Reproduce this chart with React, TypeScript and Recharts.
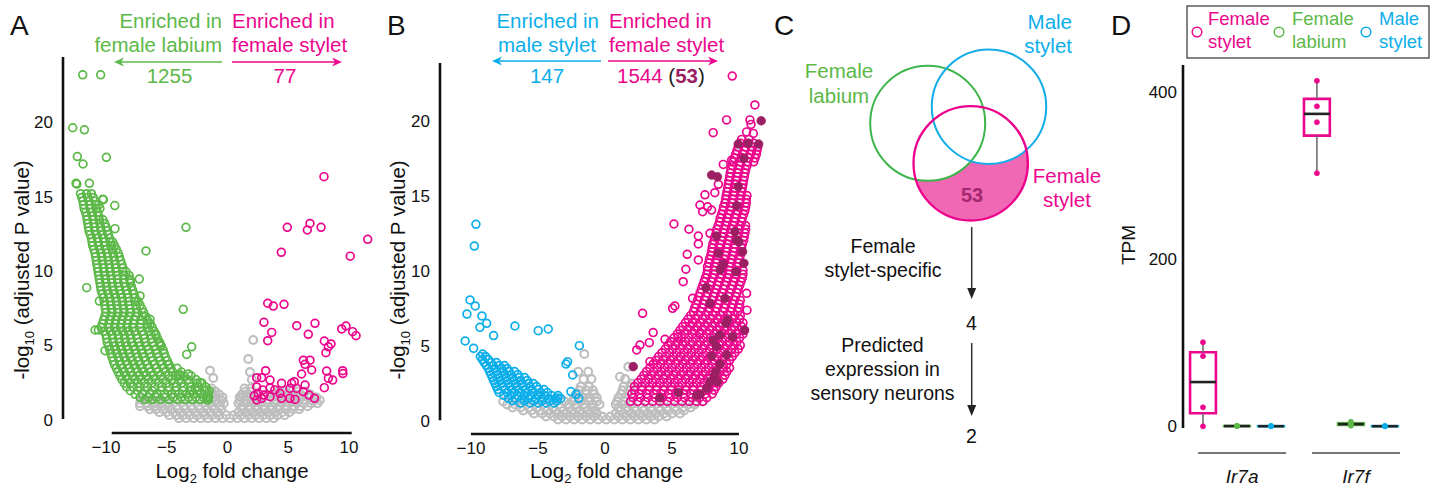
import React from 'react';
import {
  ScatterChart, ComposedChart, Scatter, XAxis, YAxis,
  ReferenceLine, ReferenceArea,
} from 'recharts';

const FONT = '"Liberation Sans", Arial, Helvetica, sans-serif';
const GREEN = '#5cb848';
const PINK = '#ec068d';
const BLUE = '#0caeea';
const GREY = '#bebebe';
const DARK = '#9b1f62';
const INK = '#111';

type Pair = [number, number];
type Row = [number, number[]];

// shared ticks
const foldTicks = [-10, -5, 0, 5, 10];
const pTicks = [0, 5, 10, 15, 20];

// enriched gene counts
const countsA = [1255, 77];
const countsB = [147, 1544];

// ---------- A: female stylet vs female labium ----------
const labiumOutliersA: Pair[] = [
  [-11.92, 23.2], [-10.44, 23.2], [-12.74, 19.64], [-11.78, 19.5], [-12.36, 17.7],
  [-11.89, 17.2], [-9.97, 17.65], [-12.47, 15.9], [-12.4, 15.85], [-11.37, 15.9],
  [-10.22, 14.8], [-9.28, 14.4], [-10.27, 14.82], [-9.26, 12.85], [-3.42, 12.94],
  [-6.71, 11.35], [-11.59, 8.88], [-10.55, 7.98], [-3.64, 7.42], [-7.26, 9.46],
  [-7.2, 8.32], [-7.97, 9.35], [-6.38, 6.75], [-5.91, 5.76], [-5.56, 5.13],
  [-2.95, 4.9], [-3.36, 4.39], [-10.9, 6.03], [-10.63, 6.03], [-10.08, 4.64],
  [-4.05, 3.0], [-3.23, 3.07], [-2.67, 2.1], [-1.71, 2.0], [-1.58, 1.32],
  [-5.5, 5.0], [-4.87, 3.7], [-3.9, 3.0], [-2.26, 2.5], [-1.72, 1.5], [-2.96, 2.0],
];

const labiumBandA: Row[] = [
  [15.2, [-12.1, -11.6, -11.2]],
  [14.95, [-12.0, -11.5, -11.05]],
  [14.7, [-11.9, -11.4, -10.9]],
  [14.45, [-11.85, -11.35, -10.85, -10.6]],
  [14.2, [-11.8, -11.3, -10.8, -10.5]],
  [13.95, [-11.7, -11.2, -10.7]],
  [13.7, [-11.6, -11.1, -10.6]],
  [13.45, [-11.55, -11.05, -10.55, -10.25]],
  [13.2, [-11.5, -11.0, -10.5, -10.1]],
  [12.95, [-11.45, -10.95, -10.45, -10.0]],
  [12.7, [-11.4, -10.9, -10.4, -9.9]],
  [12.45, [-11.3, -10.8, -10.3, -9.8]],
  [12.2, [-11.2, -10.7, -10.2, -9.7]],
  [11.95, [-11.15, -10.65, -10.15, -9.65, -9.45]],
  [11.7, [-11.1, -10.6, -10.1, -9.6, -9.3]],
  [11.45, [-11.0, -10.5, -10.0, -9.5, -9.15]],
  [11.2, [-10.9, -10.4, -9.9, -9.4, -9.0]],
  [10.95, [-10.85, -10.35, -9.85, -9.35, -8.9]],
  [10.7, [-10.8, -10.3, -9.8, -9.3, -8.8]],
  [10.45, [-10.75, -10.25, -9.75, -9.25, -8.7]],
  [10.2, [-10.7, -10.2, -9.7, -9.2, -8.6]],
  [9.95, [-10.65, -10.15, -9.65, -9.15, -8.6, -8.35]],
  [9.7, [-10.6, -10.1, -9.6, -9.1, -8.5, -8.1]],
  [9.45, [-10.55, -10.05, -9.55, -9.05, -8.55, -8.05]],
  [9.2, [-10.5, -10.0, -9.5, -9.0, -8.5, -8.0]],
  [8.95, [-10.45, -9.95, -9.45, -8.95, -8.4, -7.9]],
  [8.7, [-10.4, -9.9, -9.4, -8.9, -8.3, -7.8]],
  [8.45, [-10.3, -9.8, -9.3, -8.8, -8.25, -7.7]],
  [8.2, [-10.2, -9.7, -9.2, -8.7, -8.2, -7.6]],
  [7.95, [-10.15, -9.65, -9.15, -8.65, -8.15, -7.6, -7.35]],
  [7.7, [-10.1, -9.6, -9.1, -8.6, -8.1, -7.5, -7.2]],
  [7.45, [-10.05, -9.55, -9.05, -8.55, -8.05, -7.5, -7.05]],
  [7.2, [-10.0, -9.5, -9.0, -8.5, -8.0, -7.4, -6.9]],
  [6.95, [-10.1, -9.6, -9.1, -8.6, -8.1, -7.55, -7.0, -6.75]],
  [6.7, [-10.2, -9.7, -9.2, -8.7, -8.2, -7.7, -7.1, -6.6]],
  [6.45, [-10.3, -9.75, -9.25, -8.75, -8.25, -7.75, -7.15, -6.6, -6.35]],
  [6.2, [-10.4, -9.8, -9.3, -8.8, -8.3, -7.8, -7.2, -6.6, -6.2]],
  [5.95, [-10.2, -9.65, -9.15, -8.65, -8.15, -7.65, -7.05, -6.45, -6.05]],
  [5.7, [-10.0, -9.5, -9.0, -8.5, -8.0, -7.5, -6.9, -6.3, -5.9]],
  [5.45, [-9.95, -9.45, -8.95, -8.45, -7.95, -7.4, -6.85, -6.25, -5.75]],
  [5.2, [-9.9, -9.4, -8.9, -8.4, -7.9, -7.3, -6.8, -6.2, -5.6]],
  [4.95, [-9.8, -9.3, -8.8, -8.3, -7.75, -7.2, -6.65, -6.05, -5.45]],
  [4.7, [-9.7, -9.2, -8.7, -8.2, -7.6, -7.1, -6.5, -5.9, -5.3]],
  [4.45, [-9.6, -9.1, -8.6, -8.1, -7.5, -7.0, -6.4, -5.8, -5.2]],
  [4.2, [-9.5, -9.0, -8.5, -8.0, -7.4, -6.9, -6.3, -5.7, -5.1]],
  [3.95, [-9.4, -8.9, -8.35, -7.85, -7.3, -6.75, -6.15, -5.55, -4.95]],
  [3.7, [-9.3, -8.8, -8.2, -7.7, -7.2, -6.6, -6.0, -5.4, -4.8]],
  [3.45, [-9.15, -8.65, -8.1, -7.55, -7.05, -6.45, -5.85, -5.25, -4.65, -4.15]],
  [3.2, [-9.0, -8.5, -8.0, -7.4, -6.9, -6.3, -5.7, -5.1, -4.5, -3.8]],
  [2.95, [-8.85, -8.35, -7.8, -7.25, -6.7, -6.1, -5.5, -4.85, -4.25, -3.6, -3.0]],
  [2.7, [-8.7, -8.2, -7.6, -7.1, -6.5, -5.9, -5.3, -4.6, -4.0, -3.3, -2.6]],
  [2.45, [-8.5, -8.0, -7.4, -6.85, -6.25, -5.65, -5.05, -4.4, -3.8, -3.15, -2.5, -2.1]],
  [2.2, [-8.3, -7.8, -7.2, -6.6, -6.0, -5.4, -4.8, -4.2, -3.6, -3.0, -2.4, -1.8]],
  [1.95, [-8.0, -7.4, -6.8, -6.2, -5.5, -4.9, -4.3, -3.7, -3.1, -2.5, -1.9, -1.5]],
  [1.7, [-7.6, -7.0, -6.4, -5.8, -5.2, -4.6, -4.0, -3.4, -2.8, -2.2, -1.6]],
  [1.5, [-7.2, -6.5, -5.85, -5.15, -4.45, -3.8, -3.2, -2.6, -2.0, -1.55]],
  [1.35, [-6.8, -6.2, -5.5, -4.8, -4.1, -3.5, -2.9, -2.3, -1.7]],
];

const styletA: Pair[] = [
  [7.94, 16.35], [4.92, 12.94], [6.79, 13.2], [6.57, 12.76], [7.7, 12.94],
  [11.54, 12.13], [4.43, 11.26], [10.1, 11.0], [3.31, 7.83], [3.77, 7.64],
  [4.65, 7.76], [3.0, 6.55], [3.64, 5.87], [3.31, 5.31], [5.7, 6.32],
  [7.2, 6.48], [6.65, 5.74], [9.4, 6.1], [9.75, 6.3], [10.3, 5.92],
  [10.58, 5.65], [7.97, 5.29], [8.52, 5.09], [8.3, 4.9], [8.1, 4.5],
  [6.24, 4.0], [6.79, 4.0], [6.38, 3.72], [6.93, 3.34], [6.1, 3.07],
  [8.16, 3.27], [8.3, 2.78], [8.66, 2.66], [9.48, 3.29], [9.5, 3.1],
  [7.97, 2.15], [3.14, 3.29], [2.4, 2.82], [2.81, 2.82], [3.5, 2.66],
  [3.5, 2.13], [2.4, 2.2], [2.53, 1.77], [2.81, 1.43], [3.0, 1.65],
  [2.4, 1.32], [2.9, 2.0], [4.45, 2.44], [5.28, 2.44], [5.5, 2.55],
  [5.14, 2.1], [5.69, 2.1], [6.38, 2.33], [6.24, 1.88], [4.32, 1.77],
  [4.45, 1.43], [5.14, 1.43], [5.55, 1.36], [6.7, 1.65], [7.15, 1.43],
  [3.5, 1.54], [3.9, 2.0], [2.2, 1.6],
];

const greyRowsA: Row[] = [
  [0.1, [-4.0, -3.4, -2.8, -2.2, -1.6, -1.0, -0.4, 0.2, 0.8, 1.4, 2.0, 2.6, 3.2, 3.8]],
  [0.3, [-4.8, -4.2, -3.7, -3.1, -2.5, -1.9, -1.3, -0.7, -0.1, 0.5, 1.1, 1.7, 2.3, 2.9, 3.5, 4.1, 4.7]],
  [0.5, [-5.6, -5.0, -4.4, -3.8, -3.2, -2.6, -2.0, -1.4, -0.8, 0.9, 1.5, 2.1, 2.7, 3.3, 3.9, 4.5, 5.1]],
  [0.7, [-6.4, -5.9, -5.3, -4.7, -4.1, -3.5, -2.9, -2.3, -1.7, -1.1, -0.5, 1.2, 1.8, 2.4, 3.0, 3.6, 4.2, 4.8, 5.4, 5.9]],
  [0.9, [-7.2, -6.6, -6.0, -5.4, -4.8, -4.2, -3.6, -3.0, -2.4, -1.8, -1.2, -0.6, 1.2, 1.8, 2.4, 3.0, 3.6, 4.2, 4.8, 5.4, 6.0, 6.6]],
  [1.1, [-7.2, -6.6, -6.0, -5.4, -4.8, -1.5, -0.9, -0.3, 0.9, 1.5, 2.1, 2.7, 3.3, 3.9, 4.5, 5.1, 5.7, 6.3, 6.9, 7.4]],
  [1.3, [-7.0, -6.3, -5.7, -1.0, -0.5, 1.0, 1.5, 2.0, 2.6, 3.4, 4.0, 4.6, 5.2, 5.8, 6.4, 7.0, 7.6]],
  [1.5, [-1.1, -0.4, 1.1, 1.6, 2.2, 3.7, 4.3, 4.9, 5.5, 6.1, 6.7, 7.3]],
  [1.7, [-1.2, -0.7, 1.2, 1.7, 3.3, 4.0, 4.5, 5.0, 5.5, 6.0, 6.8]],
  [1.9, [-1.0, 1.5, 2.0, 4.2, 4.8, 5.8, 6.4]],
  [2.1, [-1.3, 1.4, 1.9, 5.2]],
];
const greyExtraA: Pair[] = [
  [-1.44, 3.3], [-1.17, 2.8], [1.71, 4.08], [2.12, 5.36], [1.85, 3.2],
  [2.0, 2.7], [7.3, 1.4], [1.0, 1.5],
];

// ---------- B: female stylet vs male stylet ----------
const maleOutliersB: Pair[] = [
  [-9.63, 13.13], [-9.75, 11.68], [-10.07, 8.08], [-9.68, 7.68], [-10.3, 7.14],
  [-9.18, 7.01], [-8.83, 6.52], [-9.33, 6.25], [-6.72, 6.34], [-4.98, 6.03],
  [-4.23, 6.14], [-8.31, 5.7], [-10.43, 5.34], [-9.8, 4.85], [-9.13, 4.47],
  [-1.91, 5.03], [-2.79, 3.96], [-2.91, 3.8], [-2.41, 3.07], [-2.54, 1.96],
  [-2.16, 1.78], [-1.96, 1.51], [-3.53, 1.53],
];
const maleBandB: Row[] = [
  [4.3, [-9.3, -8.9]],
  [4.1, [-9.15, -8.7]],
  [3.9, [-9.0, -8.5, -8.1]],
  [3.7, [-8.85, -8.35, -7.9, -7.5]],
  [3.5, [-8.7, -8.2, -7.7, -7.3]],
  [3.3, [-8.6, -8.1, -7.6, -7.15, -6.75]],
  [3.1, [-8.5, -8.0, -7.5, -7.0, -6.5]],
  [2.9, [-8.4, -7.9, -7.4, -6.9, -6.4, -6.0]],
  [2.7, [-8.3, -7.8, -7.3, -6.8, -6.3, -5.8]],
  [2.5, [-8.2, -7.7, -7.2, -6.7, -6.2, -5.7, -5.35]],
  [2.3, [-8.1, -7.6, -7.1, -6.6, -6.1, -5.6, -5.1]],
  [2.1, [-8.0, -7.45, -6.95, -6.45, -5.95, -5.45, -4.95, -4.55]],
  [1.9, [-7.9, -7.3, -6.8, -6.3, -5.8, -5.3, -4.8, -4.3]],
  [1.7, [-7.55, -7.0, -6.5, -6.0, -5.5, -5.0, -4.5, -4.0, -3.5]],
  [1.5, [-7.2, -6.7, -6.2, -5.7, -5.2, -4.7, -4.2, -3.7, -3.3]],
  [1.35, [-6.9, -6.0, -5.3, -4.7, -4.1, -3.6]],
  [1.2, [-6.3, -5.6, -5.0, -4.4, -3.8]],
];

const styletBandB: Row[] = [
  [1.3, [1.9, 2.45, 3.0, 3.55, 4.1, 4.65, 5.2, 5.75, 6.3, 6.85, 7.3]],
  [1.55, [2.1, 2.65, 3.2, 3.75, 4.3, 4.85, 5.4, 5.95, 6.5, 7.05, 7.6]],
  [1.8, [2.0, 2.55, 3.1, 3.65, 4.2, 4.75, 5.3, 5.85, 6.4, 6.95, 7.5, 8.0]],
  [2.05, [2.2, 2.75, 3.3, 3.85, 4.4, 4.95, 5.5, 6.05, 6.6, 7.15, 7.7, 8.15]],
  [2.3, [2.2, 2.75, 3.3, 3.85, 4.4, 4.95, 5.5, 6.05, 6.6, 7.15, 7.7, 8.3]],
  [2.55, [2.45, 3.0, 3.55, 4.1, 4.65, 5.2, 5.75, 6.3, 6.85, 7.4, 7.95, 8.5]],
  [2.8, [2.7, 3.25, 3.8, 4.35, 4.9, 5.45, 6.0, 6.55, 7.1, 7.65, 8.2, 8.8]],
  [3.05, [2.9, 3.45, 4.0, 4.55, 5.1, 5.65, 6.2, 6.75, 7.3, 7.85, 8.4, 8.95]],
  [3.3, [3.1, 3.65, 4.2, 4.75, 5.3, 5.85, 6.4, 6.95, 7.5, 8.05, 8.6, 9.1]],
  [3.55, [3.35, 3.9, 4.45, 5.0, 5.55, 6.1, 6.65, 7.2, 7.75, 8.3, 8.85, 9.3]],
  [3.8, [3.6, 4.15, 4.7, 5.25, 5.8, 6.35, 6.9, 7.45, 8.0, 8.55, 9.1]],
  [4.05, [3.8, 4.35, 4.9, 5.45, 6.0, 6.55, 7.1, 7.65, 8.2, 8.75, 9.3]],
  [4.3, [4.0, 4.55, 5.1, 5.65, 6.2, 6.75, 7.3, 7.85, 8.4, 8.95, 9.5]],
  [4.55, [4.25, 4.8, 5.35, 5.9, 6.45, 7.0, 7.55, 8.1, 8.65, 9.2, 9.7]],
  [4.8, [4.5, 5.05, 5.6, 6.15, 6.7, 7.25, 7.8, 8.35, 8.9, 9.45, 9.95]],
  [5.05, [4.7, 5.25, 5.8, 6.35, 6.9, 7.45, 8.0, 8.55, 9.1, 9.65, 10.1]],
  [5.3, [4.9, 5.45, 6.0, 6.55, 7.1, 7.65, 8.2, 8.75, 9.3, 9.85]],
  [5.55, [5.15, 5.7, 6.25, 6.8, 7.35, 7.9, 8.45, 9.0, 9.55, 10.05]],
  [5.8, [5.4, 5.95, 6.5, 7.05, 7.6, 8.15, 8.7, 9.25, 9.8, 10.3]],
  [6.05, [5.6, 6.15, 6.7, 7.25, 7.8, 8.35, 8.9, 9.45, 10.0, 10.4]],
  [6.3, [5.8, 6.35, 6.9, 7.45, 8.0, 8.55, 9.1, 9.65, 10.2]],
  [6.55, [6.0, 6.55, 7.1, 7.65, 8.2, 8.75, 9.3, 9.85, 10.3]],
  [6.8, [6.2, 6.75, 7.3, 7.85, 8.4, 8.95, 9.5, 10.05]],
  [7.05, [6.4, 6.95, 7.5, 8.05, 8.6, 9.15, 9.7, 10.1]],
  [7.3, [6.6, 7.15, 7.7, 8.25, 8.8, 9.35, 9.9]],
  [7.55, [6.7, 7.25, 7.8, 8.35, 8.9, 9.45, 10.0]],
  [7.8, [6.8, 7.35, 7.9, 8.45, 9.0, 9.55, 10.05]],
  [8.05, [6.9, 7.45, 8.0, 8.55, 9.1, 9.65, 10.1]],
  [8.3, [7.0, 7.55, 8.1, 8.65, 9.2, 9.75]],
  [8.55, [7.1, 7.65, 8.2, 8.75, 9.3, 9.85]],
  [8.8, [7.2, 7.75, 8.3, 8.85, 9.4, 9.95]],
  [9.05, [7.3, 7.85, 8.4, 8.95, 9.5, 10.05]],
  [9.3, [7.4, 7.95, 8.5, 9.05, 9.6, 10.15]],
  [9.55, [7.5, 8.05, 8.6, 9.15, 9.7, 10.25]],
  [9.8, [7.6, 8.15, 8.7, 9.25, 9.8, 10.3]],
  [10.05, [7.65, 8.2, 8.75, 9.3, 9.85, 10.3]],
  [10.3, [7.65, 8.2, 8.75, 9.3, 9.85]],
  [10.55, [7.75, 8.3, 8.85, 9.4, 9.95]],
  [10.8, [7.8, 8.35, 8.9, 9.45, 10.0]],
  [11.05, [7.9, 8.45, 9.0, 9.55, 10.1]],
  [11.3, [7.95, 8.5, 9.05, 9.6, 10.15]],
  [11.55, [8.0, 8.55, 9.1, 9.65, 10.2]],
  [11.8, [8.05, 8.6, 9.15, 9.7, 10.25]],
  [12.05, [8.15, 8.7, 9.25, 9.8, 10.35]],
  [12.3, [8.2, 8.75, 9.3, 9.85, 10.4]],
  [12.55, [8.3, 8.85, 9.4, 9.95, 10.45]],
  [12.8, [8.35, 8.9, 9.45, 10.0, 10.5]],
  [13.05, [8.45, 9.0, 9.55, 10.1, 10.5]],
  [13.3, [8.55, 9.1, 9.65, 10.2]],
  [13.55, [8.6, 9.15, 9.7, 10.25]],
  [13.8, [8.7, 9.25, 9.8, 10.35]],
  [14.05, [8.8, 9.35, 9.9, 10.45]],
  [14.3, [8.85, 9.4, 9.95, 10.5]],
  [14.55, [8.95, 9.5, 10.05, 10.55]],
  [14.8, [9.0, 9.55, 10.1, 10.55]],
  [15.05, [9.05, 9.6, 10.15, 10.6]],
  [15.3, [9.1, 9.65, 10.2]],
  [15.55, [9.15, 9.7, 10.25]],
  [15.8, [9.2, 9.75, 10.3]],
  [16.05, [9.25, 9.8, 10.35]],
  [16.3, [9.3, 9.85, 10.4]],
  [16.55, [9.35, 9.9, 10.45]],
  [16.8, [9.4, 9.95, 10.5]],
  [17.05, [9.5, 10.05, 10.6]],
  [17.3, [9.55, 10.1, 10.65, 11.1]],
  [17.55, [9.65, 10.2, 10.75, 11.2]],
  [17.8, [9.75, 10.3, 10.85, 11.3]],
  [18.05, [9.85, 10.4, 10.95, 11.35]],
  [18.3, [9.95, 10.5, 11.0, 11.4]],
  [18.55, [10.1, 10.65, 11.1]],
  [18.8, [10.2, 10.75]],
];
const styletOutliersB: Pair[] = [
  [9.5, 23.03], [11.19, 21.1], [9.08, 20.1], [10.82, 20.1], [8.08, 19.25],
  [10.57, 19.3], [11.07, 19.2], [10.9, 19.8], [8.83, 17.13], [9.45, 17.4],
  [8.46, 15.8], [7.46, 15.1], [8.2, 15.24], [7.09, 14.42], [7.66, 14.3],
  [7.96, 14.08], [7.29, 13.97], [5.15, 13.15], [6.27, 12.8], [6.97, 12.35],
  [7.84, 12.53], [6.97, 11.82], [6.14, 11.13], [6.97, 10.75], [6.04, 10.13],
  [5.84, 9.3], [10.57, 8.52], [6.54, 8.19], [5.22, 7.68], [5.05, 7.52],
  [2.81, 7.19], [3.6, 5.9], [4.48, 5.45], [3.31, 5.23], [2.61, 5.07],
  [2.37, 4.74], [3.36, 3.96], [5.47, 5.63], [7.09, 5.85], [10.6, 7.4],
];
// the 53 female stylet-specific genes
const specificB: Pair[] = [
  [11.66, 20.04], [9.95, 18.49], [10.7, 18.54], [11.47, 18.49], [10.37, 17.54],
  [7.96, 16.42], [8.4, 16.3], [9.95, 15.64], [9.83, 14.37], [8.33, 12.35],
  [9.7, 12.64], [9.83, 12.08], [10.0, 11.95], [8.46, 11.2], [10.27, 11.3],
  [8.83, 10.48], [8.6, 10.1], [9.78, 9.97], [10.37, 10.53], [7.54, 8.9],
  [8.96, 8.19], [7.84, 7.86], [9.15, 6.74], [9.03, 6.52], [10.42, 6.07],
  [9.53, 5.63], [8.58, 5.74], [8.33, 4.96], [7.96, 4.34], [9.08, 4.41],
  [8.28, 3.29], [8.18, 3.03], [7.84, 2.62], [8.4, 2.62], [7.59, 2.18],
  [7.09, 1.78], [6.84, 1.7], [5.47, 1.9], [4.1, 1.55], [2.11, 3.63],
  [8.58, 3.8], [8.08, 5.4],
];
const greyRowsB: Row[] = [
  [0.1, [-3.5, -2.9, -2.3, -1.7, -1.1, -0.5, 0.1, 0.7, 1.3, 1.9, 2.5, 3.1, 3.7]],
  [0.3, [-4.4, -3.8, -3.2, -2.6, -2.0, -1.4, -0.8, -0.2, 0.4, 1.0, 1.6, 2.2, 2.8, 3.4, 4.0, 4.6]],
  [0.5, [-5.3, -4.7, -4.1, -3.5, -2.9, -2.3, -1.7, -1.1, -0.6, 0.8, 1.4, 2.0, 2.6, 3.2, 3.8, 4.4, 5.0, 5.6]],
  [0.7, [-6.1, -5.5, -4.9, -4.3, -3.7, -3.1, -2.5, -1.9, -1.3, -0.8, 1.1, 1.7, 2.3, 2.9, 3.5, 4.1, 4.7, 5.3, 5.9]],
  [0.9, [-6.9, -6.3, -5.7, -5.1, -4.5, -3.9, -3.3, -2.7, -2.1, -1.5, -0.9, 1.0, 1.6, 2.2, 2.8, 3.4, 4.0, 4.6, 5.2, 5.8, 6.4]],
  [1.1, [-7.3, -6.7, -2.7, -2.1, -1.5, -0.9, -0.4, 0.8, 1.3, 1.9, 6.2, 6.7]],
  [1.3, [-7.6, -3.0, -2.4, -1.8, -1.2, -0.6, 0.9, 1.5, 2.0, 6.8, 7.3]],
  [1.55, [-2.3, -1.7, -1.1, -0.6, 1.0, 1.5]],
  [1.8, [-2.0, -1.4, -0.8, 1.2, 1.7]],
  [2.05, [-1.9, -1.4, -0.9, 1.3, 1.8]],
  [2.3, [-1.8, -1.2, 1.4, 1.9]],
  [2.8, [-1.6, -1.0, 1.5]],
];
const greyExtraB: Pair[] = [
  [-1.54, 4.47], [-1.99, 3.29], [-1.25, 3.29], [1.12, 2.96], [1.74, 3.62], [2.0, 2.5],
];

// ---------- D: Ir7a / Ir7f TPM ----------
const genes = ['Ir7a', 'Ir7f'];
const tissues = ['Female stylet', 'Female labium', 'Male stylet'];
const tpmIr7a = {
  femaleStylet: [100.6, 84.0, 22.7, 0.0],
  femaleLabium: [0.6, 0.4, 0.3, 0.2],
  maleStylet: [0.3, 0.2, 0.1, 0.1],
};
const tpmIr7f = {
  femaleStylet: [413.5, 383.0, 364.0, 303.0],
  femaleLabium: [5.5, 3.2, 2.0, 0.8],
  maleStylet: [0.3, 0.2, 0.1, 0.1],
};
// box summaries: [min, q1, median, q3, max]
const boxIr7a = {
  femaleStylet: [0, 15.6, 53, 88.6, 100.6],
  femaleLabium: [0.2, 0.25, 0.35, 0.45, 0.6],
  maleStylet: [0.1, 0.1, 0.15, 0.22, 0.3],
};
const boxIr7f = {
  femaleStylet: [303, 348, 374, 392, 413.5],
  femaleLabium: [0.8, 1.7, 2.6, 3.8, 5.5],
  maleStylet: [0.1, 0.1, 0.15, 0.22, 0.3],
};
const tpmTicks = [0, 200, 400];

// ---------- C: overlap counts ----------
const specificCount = 53;
const filterCounts = [4, 2];
const filterSteps = [['Female', 'stylet-specific'], ['Predicted', 'expression in', 'sensory neurons']];

// ---------- helpers ----------
const rowsToPoints = (rows: Row[]) => rows.flatMap(([y, xs]) => xs.map((x) => ({ x, y })));
const pairsToPoints = (pairs: Pair[]) => pairs.map(([x, y]) => ({ x, y }));

const ring = (color: string, sw = 1.7) => (p: any) =>
  <circle cx={p.cx} cy={p.cy} r={3.9} fill="none" stroke={color} strokeWidth={sw} />;
const disc = (color: string, r: number) => (p: any) =>
  <circle cx={p.cx} cy={p.cy} r={r} fill={color} stroke={color} strokeWidth={0.8} />;

const minus = (v: number) => (v < 0 ? '\u2212' + Math.abs(v) : String(v));
const tickStyle = { fontSize: 17, fill: INK, fontFamily: FONT };

function Volcano(props: {
  left: number; width: number; top: number; xAxisH: number;
  xDomain: [number, number]; yDomain: [number, number];
  frameX: [number, number]; frameYTop: number;
  layers: { data: { x: number; y: number }[]; shape: any }[];
}) {
  const { left, width, top, xAxisH, xDomain, yDomain, frameX, frameYTop, layers } = props;
  return (
    <div style={{ position: 'absolute', left, top: 0 }}>
      <ScatterChart width={width} height={489} margin={{ top, right: 0, bottom: 0, left: 0 }}>
        <XAxis type="number" dataKey="x" domain={xDomain} ticks={foldTicks} allowDataOverflow
          axisLine={false} tickLine={false} height={xAxisH} tick={tickStyle} tickFormatter={minus} interval={0} />
        <YAxis type="number" dataKey="y" domain={yDomain} ticks={pTicks} allowDataOverflow
          axisLine={false} tickLine={false} tickSize={8} width={63} tick={tickStyle} interval={0} />
        {layers.map((l, i) => (
          <Scatter key={i} data={l.data} shape={l.shape} isAnimationActive={false} />
        ))}
        <ReferenceLine segment={[{ x: xDomain[0], y: 0.05 }, { x: xDomain[0], y: frameYTop }]}
          stroke={INK} strokeWidth={2.6} ifOverflow="visible" />
        <ReferenceLine segment={[{ x: frameX[0], y: yDomain[0] }, { x: frameX[1], y: yDomain[0] }]}
          stroke={INK} strokeWidth={2.6} ifOverflow="visible" />
      </ScatterChart>
    </div>
  );
}

const slotX = [0, 1, 2];
const groupX = [0, 3.35];
const tissueColors = [PINK, GREEN, BLUE];
const geneTickValues = [1.15, 4.5];

function GeneTick(props: any) {
  const { x, y, payload } = props;
  const name = genes[geneTickValues.indexOf(payload.value)];
  return (
    <g>
      <line x1={x - 44} x2={x + 44} y1={y + 25} y2={y + 25} stroke="#777" strokeWidth={2} />
      <text x={x} y={y + 55} textAnchor="middle" fontStyle="italic" fontSize={19} fill={INK} fontFamily={FONT}>
        {name}
      </text>
    </g>
  );
}

function BoxPanel() {
  const sets = [tpmIr7a, tpmIr7f];
  const boxes = [boxIr7a, boxIr7f];
  const keys = ['femaleStylet', 'femaleLabium', 'maleStylet'] as const;
  const items: { x: number; stats: number[]; color: string; reps: number[] }[] = [];
  sets.forEach((s, g) => {
    keys.forEach((k, t) => {
      items.push({ x: groupX[g] + slotX[t], stats: (boxes[g] as any)[k], color: tissueColors[t], reps: (s as any)[k] });
    });
  });
  const hw = 0.38;
  return (
    <div style={{ position: 'absolute', left: 1110, top: 0 }}>
      <ComposedChart width={320} height={489} margin={{ top: 65, right: 10, bottom: 0, left: 0 }}>
        <XAxis type="number" dataKey="x" domain={[-0.588, 6.382]} ticks={geneTickValues} interval={0}
          axisLine={false} tickLine={false} tickSize={0} tickMargin={0} height={61} tick={<GeneTick />} />
        <YAxis type="number" dataKey="y" domain={[-2, 432.5]} ticks={tpmTicks} interval={0}
          axisLine={{ stroke: INK, strokeWidth: 2.6 }} tickLine={false} tickSize={4} width={73} tick={tickStyle} />
        {items.map((b, i) => (
          <ReferenceLine key={'wl' + i} segment={[{ x: b.x, y: b.stats[0] }, { x: b.x, y: b.stats[1] }]}
            stroke="#666" strokeWidth={1.5} ifOverflow="visible" />
        ))}
        {items.map((b, i) => (
          <ReferenceLine key={'wh' + i} segment={[{ x: b.x, y: b.stats[3] }, { x: b.x, y: b.stats[4] }]}
            stroke="#666" strokeWidth={1.5} ifOverflow="visible" />
        ))}
        {items.map((b, i) => (
          <ReferenceArea key={'bx' + i} x1={b.x - hw} x2={b.x + hw} y1={b.stats[1]} y2={b.stats[3]}
            fill="#fff" fillOpacity={1} stroke={b.color} strokeWidth={2.6} ifOverflow="visible" />
        ))}
        {items.map((b, i) => (
          <ReferenceLine key={'md' + i} segment={[{ x: b.x - hw, y: b.stats[2] }, { x: b.x + hw, y: b.stats[2] }]}
            stroke="#222" strokeWidth={2.6} ifOverflow="visible" />
        ))}
        {items.map((b, i) => (
          <Scatter key={'pt' + i} data={b.reps.map((y) => ({ x: b.x, y }))} shape={disc(b.color, 2.5)}
            isAnimationActive={false} />
        ))}
      </ComposedChart>
    </div>
  );
}

function HArrow({ x1, x2, y, color }: { x1: number; x2: number; y: number; color: string }) {
  const d = Math.sign(x2 - x1);
  return (
    <g>
      <line x1={x1} x2={x2 - d * 6} y1={y} y2={y} stroke={color} strokeWidth={1.5} />
      <polygon points={`${x2},${y} ${x2 - d * 10},${y - 4.5} ${x2 - d * 7},${y} ${x2 - d * 10},${y + 4.5}`} fill={color} />
    </g>
  );
}

function VArrow({ x, y1, y2 }: { x: number; y1: number; y2: number }) {
  return (
    <g>
      <line x1={x} x2={x} y1={y1} y2={y2 - 8} stroke="#333" strokeWidth={1.5} />
      <polygon points={`${x},${y2} ${x - 4.5},${y2 - 11} ${x + 4.5},${y2 - 11}`} fill="#222" />
    </g>
  );
}

function Overlay() {
  const t = { fontFamily: FONT, fontSize: 20.5 };
  return (
    <svg width={1438} height={489} style={{ position: 'absolute', left: 0, top: 0, pointerEvents: 'none', whiteSpace: 'pre' }}>
      {/* panel letters */}
      <g fontFamily={FONT} fontSize={28} fill={INK}>
        <text x={10} y={35}>A</text>
        <text x={387} y={35}>B</text>
        <text x={774} y={35}>C</text>
        <text x={1111} y={35}>D</text>
      </g>

      {/* A annotations */}
      <g {...t}>
        <text x={222} y={28} textAnchor="end" fill={GREEN}>Enriched in</text>
        <text x={222} y={52} textAnchor="end" fill={GREEN}>female labium</text>
        <text x={232} y={28} fill={PINK}>Enriched in</text>
        <text x={232} y={52} fill={PINK}>female stylet</text>
        <text x={169.5} y={83} textAnchor="middle" fill={GREEN}>{countsA[0]}</text>
        <text x={285} y={83} textAnchor="middle" fill={PINK}>{countsA[1]}</text>
        <text transform="translate(29,270) rotate(-90)" textAnchor="middle" fill={INK}>
          -log<tspan fontSize={13} dy={5}>10</tspan><tspan dy={-5}>{' (adjusted P value)'}</tspan>
        </text>
        <text x={232} y={478} textAnchor="middle" fill={INK}>
          Log<tspan fontSize={13} dy={5}>2</tspan><tspan dy={-5}>{' fold change'}</tspan>
        </text>
      </g>
      <HArrow x1={222} x2={114} y={62} color={GREEN} />
      <HArrow x1={232} x2={342} y={62} color={PINK} />

      {/* B annotations */}
      <g {...t}>
        <text x={599} y={28} textAnchor="end" fill={BLUE}>Enriched in</text>
        <text x={596} y={52} textAnchor="end" fill={BLUE}>male stylet</text>
        <text x={609} y={28} fill={PINK}>Enriched in</text>
        <text x={609} y={52} fill={PINK}>female stylet</text>
        <text x={547} y={83} textAnchor="middle" fill={BLUE}>{countsB[0]}</text>
        <text x={617} y={83}>
          <tspan fill={PINK}>{countsB[1]}</tspan><tspan fill="#222">{' ('}</tspan>
          <tspan fill={DARK} fontWeight="bold">{specificCount}</tspan><tspan fill="#222">)</tspan>
        </text>
        <text transform="translate(405,270) rotate(-90)" textAnchor="middle" fill={INK}>
          -log<tspan fontSize={13} dy={5}>10</tspan><tspan dy={-5}>{' (adjusted P value)'}</tspan>
        </text>
        <text x={606.5} y={478} textAnchor="middle" fill={INK}>
          Log<tspan fontSize={13} dy={5}>2</tspan><tspan dy={-5}>{' fold change'}</tspan>
        </text>
      </g>
      <HArrow x1={601} x2={492} y={61} color={BLUE} />
      <HArrow x1={608} x2={718} y={61} color={PINK} />

      {/* C venn */}
      <circle cx={970.7} cy={163.3} r={57.2} fill="#f067b4" />
      <circle cx={927.7} cy={123.3} r={57.5} fill="#fff" />
      <circle cx={989} cy={106.7} r={57.2} fill="#fff" />
      <circle cx={927.7} cy={123.3} r={57.5} fill="none" stroke="#3cb54a" strokeWidth={2} />
      <circle cx={989} cy={106.7} r={57.2} fill="none" stroke="#12ade8" strokeWidth={2} />
      <circle cx={970.7} cy={163.3} r={57.2} fill="none" stroke="#ec008c" strokeWidth={2.3} />
      <text x={972} y={202} textAnchor="middle" fontFamily={FONT} fontSize={20} fontWeight="bold" fill="#a3296e">
        {specificCount}
      </text>
      <g fontFamily={FONT} fontSize={20.5}>
        <text x={1072} y={29} textAnchor="end" fill={BLUE}>Male</text>
        <text x={1072} y={53} textAnchor="end" fill={BLUE}>stylet</text>
        <text x={839} y={78} textAnchor="middle" fill={GREEN}>Female</text>
        <text x={839} y={103} textAnchor="middle" fill={GREEN}>labium</text>
        <text x={1067} y={183} textAnchor="middle" fill={PINK}>Female</text>
        <text x={1067} y={207} textAnchor="middle" fill={PINK}>stylet</text>
      </g>
      <g fontFamily={FONT} fontSize={19.5} fill={INK} textAnchor="middle">
        {filterSteps[0].map((s, i) => <text key={'a' + i} x={883} y={253 + i * 24}>{s}</text>)}
        {filterSteps[1].map((s, i) => <text key={'b' + i} x={882.5} y={352 + i * 24}>{s}</text>)}
        <text x={971.5} y={330}>{filterCounts[0]}</text>
        <text x={971.5} y={443}>{filterCounts[1]}</text>
      </g>
      <VArrow x={971.7} y1={227} y2={299} />
      <VArrow x={971.7} y1={343} y2={416} />

      {/* D legend + title */}
      <rect x={1187} y={6} width={242} height={52} fill="none" stroke="#333" strokeWidth={1.2} />
      {tissues.map((name, i) => {
        const cx = [1197, 1279, 1366][i];
        const tx = [1208, 1292, 1379][i];
        const [l1, l2] = name.split(' ');
        return (
          <g key={name} fontFamily={FONT} fontSize={18.5} fill={tissueColors[i]}>
            <circle cx={cx} cy={32} r={4.8} fill="none" stroke={tissueColors[i]} strokeWidth={1.5} />
            <text x={tx} y={25}>{l1}</text>
            <text x={tx} y={48}>{l2}</text>
          </g>
        );
      })}
      <text transform="translate(1135,245) rotate(-90)" textAnchor="middle" fontFamily={FONT} fontSize={19} fill={INK}>TPM</text>
    </svg>
  );
}

export default function App() {
  const labiumA = [...rowsToPoints(labiumBandA), ...pairsToPoints(labiumOutliersA)];
  const greyA = [...rowsToPoints(greyRowsA), ...pairsToPoints(greyExtraA)];
  const maleB = [...rowsToPoints(maleBandB), ...pairsToPoints(maleOutliersB)];
  const greyB = [...rowsToPoints(greyRowsB), ...pairsToPoints(greyExtraB)];
  const styletB = [...rowsToPoints(styletBandB), ...pairsToPoints(styletOutliersB)];
  return (
    <div style={{ position: 'absolute', left: 0, top: 0, width: 1438, height: 489, background: '#fff', fontFamily: FONT }}>
      <Volcano left={0} width={375} top={57} xAxisH={56}
        xDomain={[-13.54, 12.14]} yDomain={[-0.9, 24.4]} frameX={[-9.53, 10.22]} frameYTop={24.4}
        layers={[
          { data: greyA, shape: ring(GREY, 2.1) },
          { data: labiumA, shape: ring(GREEN) },
          { data: pairsToPoints(styletA), shape: ring(PINK) },
        ]} />
      <Volcano left={377} width={400} top={63} xAxisH={55}
        xDomain={[-12.31, 12.84]} yDomain={[-0.87, 23.9]} frameX={[-10, 10]} frameYTop={23.9}
        layers={[
          { data: greyB, shape: ring(GREY, 2.1) },
          { data: maleB, shape: ring(BLUE) },
          { data: styletB, shape: ring(PINK) },
          { data: pairsToPoints(specificB), shape: disc(DARK, 4.3) },
        ]} />
      <BoxPanel />
      <Overlay />
    </div>
  );
}
